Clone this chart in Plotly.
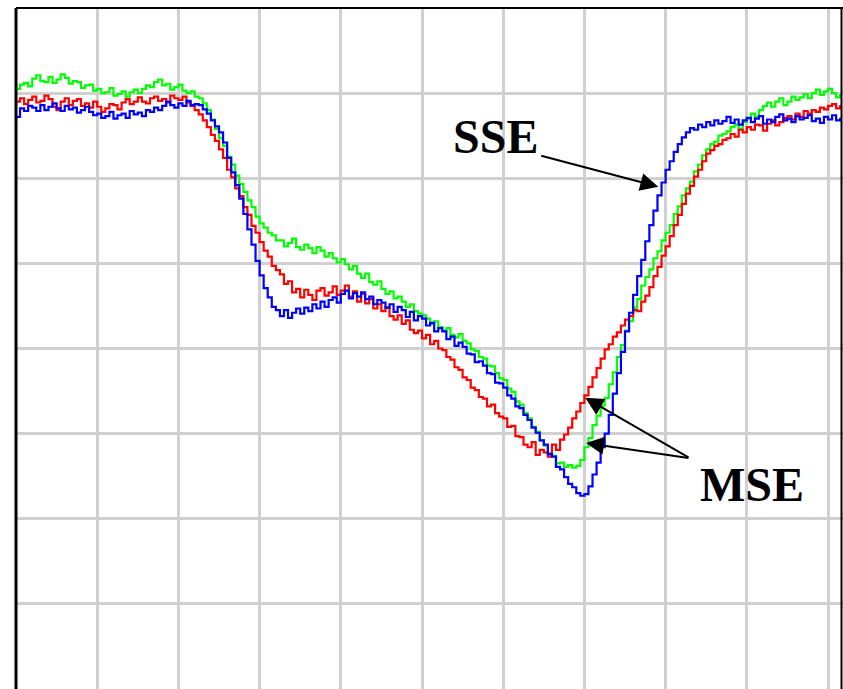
import plotly.graph_objects as go

# Sample index spacing (grid units per sample)
STEP = 0.05

green_vals = [
    7.05, 7.10, 7.12, 7.08, 7.17, 7.21, 7.14, 7.13, 7.19, 7.12,
    7.16, 7.22, 7.18, 7.11, 7.14, 7.13, 7.06, 7.09, 7.10, 7.03,
    7.05, 7.00, 7.01, 7.06, 6.97, 6.99, 7.02, 6.96, 7.01, 7.04,
    7.00, 7.05, 7.09, 7.07, 7.13, 7.16, 7.09, 7.11, 7.04, 7.07,
    7.10, 7.03, 7.00, 7.02, 6.96, 6.94, 6.88, 6.80, 6.69, 6.58,
    6.47, 6.38, 6.25, 6.16, 6.03, 5.93, 5.84, 5.74, 5.66, 5.55,
    5.47, 5.42, 5.36, 5.33, 5.27, 5.27, 5.20, 5.24, 5.29, 5.19,
    5.16, 5.22, 5.18, 5.12, 5.19, 5.15, 5.08, 5.12, 5.06, 5.01,
    5.05, 4.99, 4.93, 4.97, 4.88, 4.83, 4.88, 4.78, 4.75, 4.79,
    4.70, 4.64, 4.67, 4.59, 4.61, 4.55, 4.49, 4.52, 4.44, 4.41,
    4.39, 4.35, 4.29, 4.32, 4.25, 4.21, 4.24, 4.16, 4.13, 4.17,
    4.09, 4.06, 3.99, 3.97, 3.90, 3.88, 3.80, 3.79, 3.71, 3.65,
    3.63, 3.53, 3.49, 3.38, 3.34, 3.24, 3.18, 3.08, 3.02, 2.92,
    2.86, 2.77, 2.74, 2.65, 2.66, 2.61, 2.63, 2.60, 2.62, 2.69,
    2.84, 2.95, 3.10, 3.21, 3.33, 3.42, 3.58, 3.72, 3.90, 4.04,
    4.21, 4.32, 4.48, 4.58, 4.74, 4.84, 4.93, 5.06, 5.14, 5.27,
    5.36, 5.45, 5.58, 5.67, 5.80, 5.88, 5.96, 6.08, 6.16, 6.27,
    6.34, 6.40, 6.43, 6.50, 6.52, 6.55, 6.60, 6.63, 6.58, 6.66,
    6.70, 6.76, 6.72, 6.80, 6.85, 6.89, 6.84, 6.90, 6.94, 6.86,
    6.90, 6.96, 6.92, 6.95, 6.99, 6.94, 7.00, 7.04, 6.98, 7.02,
    7.05, 7.00, 6.95, 6.99,
]

red_vals = [
    6.90, 6.94, 6.87, 6.92, 6.96, 6.89, 6.91, 6.97, 6.93, 6.84,
    6.80, 6.90, 6.94, 6.86, 6.91, 6.93, 6.85, 6.88, 6.83, 6.90,
    6.84, 6.78, 6.82, 6.87, 6.86, 6.81, 6.89, 6.93, 6.87, 6.90,
    6.95, 6.90, 6.88, 6.94, 6.96, 6.91, 6.93, 6.89, 6.97, 6.94,
    6.92, 6.96, 6.89, 6.85, 6.80, 6.75, 6.68, 6.60, 6.51, 6.44,
    6.34, 6.24, 6.10, 6.01, 5.88, 5.79, 5.66, 5.57, 5.44, 5.36,
    5.25, 5.15, 5.08, 4.97, 4.92, 4.87, 4.76, 4.79, 4.66, 4.70,
    4.60, 4.69, 4.63, 4.57, 4.68, 4.71, 4.62, 4.66, 4.73, 4.63,
    4.68, 4.74, 4.61, 4.67, 4.55, 4.64, 4.53, 4.58, 4.47, 4.52,
    4.44, 4.48, 4.38, 4.34, 4.39, 4.29, 4.33, 4.22, 4.18, 4.21,
    4.12, 4.16, 4.05, 4.09, 4.00, 3.98, 3.90, 3.87, 3.78, 3.75,
    3.66, 3.63, 3.54, 3.51, 3.43, 3.41, 3.32, 3.34, 3.24, 3.20,
    3.18, 3.08, 3.09, 2.97, 2.96, 2.87, 2.84, 2.90, 2.75, 2.81,
    2.78, 2.73, 2.87, 2.81, 2.93, 2.99, 3.07, 3.18, 3.26, 3.36,
    3.45, 3.55, 3.66, 3.77, 3.88, 3.99, 4.05, 4.14, 4.19, 4.27,
    4.34, 4.38, 4.45, 4.44, 4.55, 4.62, 4.72, 4.85, 4.96, 5.09,
    5.20, 5.32, 5.45, 5.57, 5.70, 5.82, 5.91, 6.02, 6.10, 6.20,
    6.29, 6.33, 6.38, 6.40, 6.45, 6.47, 6.52, 6.49, 6.57, 6.54,
    6.60, 6.57, 6.63, 6.62, 6.56, 6.64, 6.68, 6.62, 6.66, 6.71,
    6.73, 6.69, 6.76, 6.72, 6.79, 6.76, 6.80, 6.78, 6.83, 6.81,
    6.85, 6.87, 6.82, 6.86,
]

blue_vals = [
    6.72, 6.82, 6.79, 6.85, 6.83, 6.79, 6.86, 6.80, 6.84, 6.88,
    6.82, 6.79, 6.85, 6.81, 6.83, 6.77, 6.80, 6.84, 6.78, 6.74,
    6.76, 6.71, 6.73, 6.78, 6.70, 6.74, 6.76, 6.71, 6.79, 6.75,
    6.77, 6.73, 6.80, 6.78, 6.83, 6.80, 6.85, 6.90, 6.86, 6.83,
    6.88, 6.85, 6.91, 6.86, 6.87, 6.86, 6.81, 6.76, 6.68, 6.61,
    6.54, 6.42, 6.24, 6.07, 5.92, 5.76, 5.58, 5.40, 5.22, 5.03,
    4.86, 4.71, 4.60, 4.49, 4.45, 4.38, 4.45, 4.36, 4.42, 4.47,
    4.41, 4.48, 4.44, 4.52, 4.47, 4.55, 4.49, 4.57, 4.60, 4.54,
    4.64, 4.68, 4.59, 4.65, 4.61, 4.66, 4.58, 4.61, 4.52, 4.57,
    4.54, 4.48, 4.52, 4.43, 4.49, 4.45, 4.37, 4.43, 4.33, 4.38,
    4.35, 4.27, 4.30, 4.20, 4.24, 4.20, 4.11, 4.14, 4.03, 4.07,
    4.02, 3.94, 3.93, 3.84, 3.85, 3.80, 3.71, 3.70, 3.60, 3.59,
    3.54, 3.45, 3.41, 3.32, 3.30, 3.22, 3.16, 3.07, 3.01, 2.92,
    2.87, 2.76, 2.73, 2.61, 2.58, 2.49, 2.41, 2.37, 2.30, 2.27,
    2.29, 2.38, 2.52, 2.66, 2.84, 3.00, 3.22, 3.47, 3.71, 3.96,
    4.20, 4.42, 4.63, 4.85, 5.04, 5.26, 5.45, 5.62, 5.80, 5.95,
    6.10, 6.20, 6.31, 6.40, 6.48, 6.54, 6.59, 6.57, 6.63, 6.60,
    6.66, 6.62, 6.68, 6.64, 6.67, 6.72, 6.65, 6.69, 6.63, 6.68,
    6.71, 6.66, 6.70, 6.73, 6.64, 6.69, 6.66, 6.72, 6.75, 6.68,
    6.70, 6.66, 6.73, 6.69, 6.71, 6.74, 6.67, 6.70, 6.65, 6.72,
    6.69, 6.74, 6.68, 6.71,
]

x_vals = [round(i * STEP, 2) for i in range(len(green_vals))]

fig = go.Figure()
for vals, color in ((green_vals, "#00ff00"), (red_vals, "#ff0000"), (blue_vals, "#0000ff")):
    fig.add_trace(go.Scatter(
        x=x_vals[:len(vals)], y=vals, mode="lines", line_shape="hv",
        line=dict(color=color, width=2.2), hoverinfo="skip", showlegend=False,
    ))

W, H = 843, 689
L, T = 16, 8
X_MAX = (W - L) / 81.2

grid = dict(showgrid=True, gridcolor="#d0d0d0", gridwidth=3, dtick=1, tick0=0,
            showticklabels=False, ticks="", zeroline=False, showline=False, fixedrange=True)

fig.update_layout(
    width=W, height=H,
    margin=dict(l=L, r=0, t=T, b=0),
    paper_bgcolor="white", plot_bgcolor="white",
    xaxis=dict(range=[0, X_MAX], **grid),
    yaxis=dict(range=[0, 8], **grid),
    showlegend=False,
)

# Frame on left, top and right
def frame_line(x0, x1, y0, y1, width):
    fig.add_shape(type="line", xref="paper", yref="paper", x0=x0, x1=x1, y0=y0, y1=y1,
                  line=dict(color="black", width=width))

frame_line(0, 0, 0, 1, 3)
frame_line(0, 1, 1, 1, 2)
frame_line(1 - 1.5 / (W - L), 1 - 1.5 / (W - L), 0, 1, 2)

label_font = dict(family="Liberation Serif, Times New Roman, serif", size=48, color="black")
fig.add_annotation(x=5.90, y=6.485, text="<b>SSE</b>", showarrow=False, font=label_font)
fig.add_annotation(x=9.06, y=2.40, text="<b>MSE</b>", showarrow=False, font=label_font)

arrow = dict(text="", showarrow=True, arrowhead=2, arrowsize=1.8, arrowwidth=2,
             arrowcolor="black", axref="x", ayref="y", standoff=0, startstandoff=0)
fig.add_annotation(x=7.91, y=5.90, ax=6.45, ay=6.27, **arrow)
fig.add_annotation(x=7.01, y=3.42, ax=8.30, ay=2.71, **arrow)
fig.add_annotation(x=7.02, y=2.89, ax=8.30, ay=2.71, **arrow)

fig.write_html("out.html")
